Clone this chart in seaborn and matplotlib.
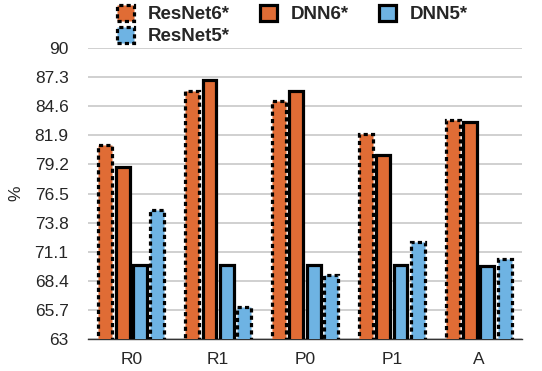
import numpy as np
import pandas as pd
import matplotlib
matplotlib.use("Agg")
import matplotlib.pyplot as plt
import seaborn as sns
from matplotlib.patches import Patch

categories = ["R0", "R1", "P0", "P1", "A"]
resnet6 = [81.0, 86.0, 85.1, 82.0, 83.3]
dnn6 = [79.0, 87.0, 86.0, 80.1, 83.1]
dnn5 = [69.9, 69.9, 69.9, 69.9, 69.8]
resnet5 = [75.0, 66.0, 68.9, 72.0, 70.4]
series = ["ResNet6*", "DNN6*", "DNN5*", "ResNet5*"]
yticks = [63, 65.7, 68.4, 71.1, 73.8, 76.5, 79.2, 81.9, 84.6, 87.3, 90]
ytick_labels = ["63", "65.7", "68.4", "71.1", "73.8", "76.5", "79.2", "81.9", "84.6", "87.3", "90"]

orange = "#E06C35"
blue = "#6EB3E3"
colors = {"ResNet6*": orange, "DNN6*": orange, "DNN5*": blue, "ResNet5*": blue}
dotted = {"ResNet6*": True, "DNN6*": False, "DNN5*": False, "ResNet5*": True}

df = pd.DataFrame({
    "cat": categories * 4,
    "model": sum([[s] * len(categories) for s in series], []),
    "value": resnet6 + dnn6 + dnn5 + resnet5,
})

sns.set_style("white")
plt.rcParams["font.family"] = ["Liberation Sans", "DejaVu Sans"]

fig = plt.figure(figsize=(5.42, 3.71), dpi=100)
ax = fig.add_axes([88 / 542, 32 / 371, (522 - 88) / 542, (339 - 48) / 371])

sns.barplot(data=df, x="cat", y="value", hue="model", hue_order=series,
            palette=colors, width=0.8, gap=0.2, ax=ax, legend=False,
            saturation=1)

dots = (0, (1.3, 1))
for cont, name in zip(ax.containers, series):
    for bar in cont:
        bar.set_edgecolor("black")
        bar.set_linewidth(2.3)
        if dotted[name]:
            bar.set_linestyle(dots)
        bar.set_zorder(3)

ax.set_ylim(63, 90)
ax.set_yticks(yticks)
ax.set_yticklabels(ytick_labels, fontsize=12.5)
ax.tick_params(axis="x", labelsize=12.5, length=0, pad=9)
ax.tick_params(axis="y", length=0, pad=14)
ax.grid(axis="y", color="#c8c8c8", linewidth=1.2, zorder=0)
ax.set_axisbelow(True)
for s in ["top", "right", "left"]:
    ax.spines[s].set_visible(False)
ax.spines["bottom"].set_color("#333333")
ax.spines["bottom"].set_linewidth(1.0)
ax.set_xlabel("")
ax.set_ylabel("%", fontsize=12.5, labelpad=8)

order = ["ResNet6*", "ResNet5*", "DNN6*", "DNN5*"]
handles = [Patch(facecolor=colors[n], edgecolor="black", linewidth=2.3,
                 linestyle=dots if dotted[n] else "-") for n in order]
fig.legend(handles, order, loc="upper left", bbox_to_anchor=(117 / 542, 1 - 5 / 371),
           ncol=3, frameon=False, prop={"weight": "bold", "size": 13.5},
           handlelength=0.9, handleheight=0.9, handletextpad=0.75,
           columnspacing=1.6, labelspacing=0.2, borderpad=0, borderaxespad=0)

fig.savefig("out.png", dpi=100)
